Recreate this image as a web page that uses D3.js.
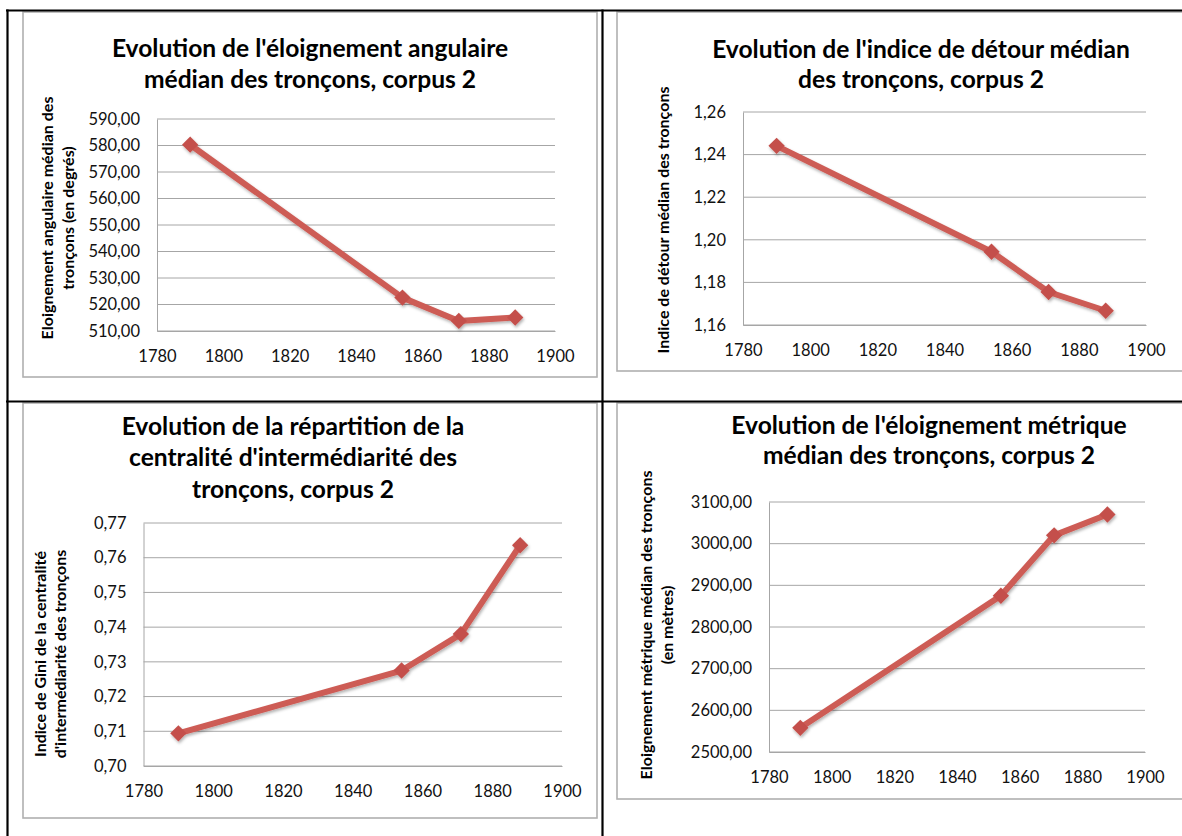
<!DOCTYPE html>
<html>
<head>
<meta charset="utf-8">
<script src="https://cdn.jsdelivr.net/npm/d3@7"></script>
<style>
  html, body { margin: 0; padding: 0; background: #fff; }
  svg { display: block; }
  .title { font-family: Lato, "Open Sans", sans-serif; font-weight: 700; fill: #000; }
  .tick text { font-family: Lato, "Open Sans", sans-serif; fill: #111; }
  .ytitle { font-family: Lato, "Open Sans", sans-serif; font-weight: 700; fill: #000; }
</style>
</head>
<body>
<svg id="chart" width="1182" height="836"></svg>
<script>
// Survey years shared by all four series
const years = [1790, 1854, 1871, 1888];

// Median angular distance of segments (degrees)
const angular = [580.3, 522.6, 513.8, 515.1];
// Median detour index of segments
const detour = [1.2441, 1.1944, 1.1755, 1.1667];
// Gini index of segment betweenness centrality
const gini = [0.7094, 0.7275, 0.7380, 0.7636];
// Median metric distance of segments (metres)
const metric = [2558, 2875, 3020, 3070];

// Axis ticks
const xTicks = [1780, 1800, 1820, 1840, 1860, 1880, 1900];
const angularTicks = [510, 520, 530, 540, 550, 560, 570, 580, 590];
const detourTicks = [1.16, 1.18, 1.20, 1.22, 1.24, 1.26];
const giniTicks = [0.70, 0.71, 0.72, 0.73, 0.74, 0.75, 0.76, 0.77];
const metricTicks = [2500, 2600, 2700, 2800, 2900, 3000, 3100];

// Titles
const titles = [
  ["Evolution de l'éloignement angulaire", "médian des tronçons, corpus 2"],
  ["Evolution de l'indice de détour médian", "des tronçons, corpus 2"],
  ["Evolution de la répartition de la", "centralité d'intermédiarité des", "tronçons, corpus 2"],
  ["Evolution de l'éloignement métrique", "médian des tronçons, corpus 2"]
];
const yTitles = [
  ["Eloignement angulaire médian des", "tronçons (en degrés)"],
  ["Indice de détour médian des tronçons"],
  ["Indice de Gini de la centralité", "d'intermédiarité des tronçons"],
  ["Eloignement métrique médian des tronçons", "(en mètres)"]
];

const fr = d3.formatLocale({decimal: ",", thousands: "", grouping: [3], currency: ["", " €"]});

const svg = d3.select("#chart");

// drop shadow for the series
const defs = svg.append("defs");
const f = defs.append("filter").attr("id", "shadow")
  .attr("x", "-20%").attr("y", "-20%").attr("width", "140%").attr("height", "140%");
f.append("feDropShadow").attr("dx", 1).attr("dy", 2).attr("stdDeviation", 1.6)
  .attr("flood-color", "#000").attr("flood-opacity", 0.3);

// Panel layout
const panels = [
  { values: angular, ticks: angularTicks, fmt: fr.format(".2f"), domain: [510, 590],
    box: [23, 12, 597, 377], plot: [157, 119, 555, 331],
    titleX: 310, titleY: [48, 79],
    yTitleX: [47, 68], yTitleY: 218, title: titles[0], yTitle: yTitles[0] },
  { values: detour, ticks: detourTicks, fmt: fr.format(".2f"), domain: [1.16, 1.26],
    box: [617, 12, 1195, 371], plot: [743, 112, 1146, 325],
    titleX: 921, titleY: [49, 79],
    yTitleX: [663], yTitleY: 220, title: titles[1], yTitle: yTitles[1] },
  { values: gini, ticks: giniTicks, fmt: fr.format(".2f"), domain: [0.70, 0.77],
    box: [23, 403, 597, 818], plot: [143.5, 523, 562, 766],
    titleX: 293, titleY: [426, 457, 489],
    yTitleX: [40, 60], yTitleY: 654, title: titles[2], yTitle: yTitles[2] },
  { values: metric, ticks: metricTicks, fmt: fr.format(".2f"), domain: [2500, 3100],
    box: [617, 403, 1195, 799], plot: [769, 502, 1145, 752],
    titleX: 929, titleY: [425, 455],
    yTitleX: [646, 667], yTitleY: 625, title: titles[3], yTitle: yTitles[3] }
];

panels.forEach(p => {
  const g = svg.append("g");
  const [bx0, by0, bx1, by1] = p.box;
  g.append("rect").attr("x", bx0).attr("y", by0).attr("width", bx1 - bx0).attr("height", by1 - by0)
    .attr("fill", "#fff").attr("stroke", "#b0b0b0").attr("stroke-width", 1.6);

  const [px0, py0, px1, py1] = p.plot;
  const x = d3.scaleLinear().domain([1780, 1900]).range([px0, px1]);
  const y = d3.scaleLinear().domain(p.domain).range([py1, py0]);

  // horizontal gridlines
  g.append("g").selectAll("line").data(p.ticks).join("line")
    .attr("x1", px0).attr("x2", px1)
    .attr("y1", d => y(d)).attr("y2", d => y(d))
    .attr("stroke", "#a6a6a6").attr("stroke-width", 1);

  // y axis
  const ya = g.append("g").attr("transform", `translate(${px0},0)`)
    .call(d3.axisLeft(y).tickValues(p.ticks).tickFormat(p.fmt).tickSize(0).tickPadding(17));
  ya.select(".domain").attr("stroke", "#a6a6a6");
  ya.selectAll("text").attr("font-size", 16.5);

  // x axis
  const xa = g.append("g").attr("transform", `translate(0,${py1})`)
    .call(d3.axisBottom(x).tickValues(xTicks).tickFormat(d3.format("d")).tickSize(0).tickPadding(19));
  xa.select(".domain").attr("stroke", "#a6a6a6");
  xa.selectAll("text").attr("font-size", 16.5);

  // title
  const t = g.append("text").attr("class", "title").attr("text-anchor", "middle")
    .attr("font-size", 24.6);
  p.title.forEach((line, i) => {
    t.append("tspan").attr("x", p.titleX).attr("y", p.titleY[i]).attr("dy", "0.35em").text(line);
  });

  // y axis title
  p.yTitle.forEach((line, i) => {
    g.append("text").attr("class", "ytitle").attr("text-anchor", "middle")
      .attr("font-size", 16)
      .attr("transform", `translate(${p.yTitleX[i]},${p.yTitleY}) rotate(-90)`)
      .attr("dy", "0.35em").text(line);
  });

  // series line and markers
  const pts = years.map((yr, i) => [yr, p.values[i]]);
  const s = g.append("g").attr("filter", "url(#shadow)");
  s.append("path").datum(pts)
    .attr("d", d3.line().x(d => x(d[0])).y(d => y(d[1])))
    .attr("fill", "none").attr("stroke", "#cd5b55").attr("stroke-width", 6)
    .attr("stroke-linejoin", "round");
  s.selectAll("path.m").data(pts).join("path").attr("class", "m")
    .attr("d", d3.symbol(d3.symbolDiamond2, 170))
    .attr("transform", d => `translate(${x(d[0])},${y(d[1])})`)
    .attr("fill", "#c4504b");
});

// table frame
const frame = svg.append("g").attr("stroke", "#000").attr("stroke-width", 2.2);
frame.append("line").attr("x1", 6).attr("x2", 1182).attr("y1", 10.5).attr("y2", 10.5);
frame.append("line").attr("x1", 7.5).attr("x2", 7.5).attr("y1", 9.5).attr("y2", 836);
frame.append("line").attr("x1", 602.5).attr("x2", 602.5).attr("y1", 9.5).attr("y2", 836);
frame.append("line").attr("x1", 6).attr("x2", 1182).attr("y1", 401.5).attr("y2", 401.5);
</script>
</body>
</html>
